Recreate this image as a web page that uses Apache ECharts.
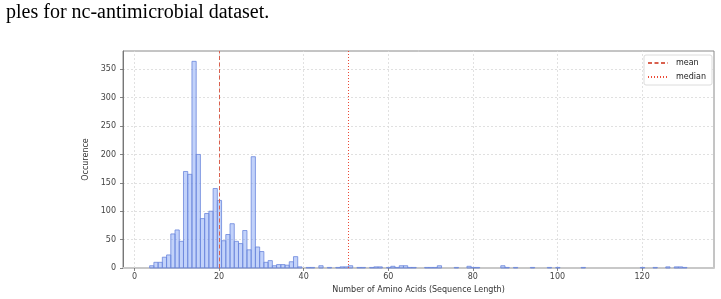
<!DOCTYPE html>
<html><head><meta charset="utf-8">
<script src="https://cdn.jsdelivr.net/npm/echarts@6/dist/echarts.min.js"></script>
<style>html,body{margin:0;padding:0;background:#fff}#c{width:721px;height:299px}</style>
</head><body><div id="c"></div>
<script>
// ---- data ----
const binLengths = [4,5,6,7,8,9,10,11,12,13,14,15,16,17,18,19,20,21,22,23,24,25,26,27,28,29,30,31,32,33,34,35,36,37,38,39,41,42,44,46,48,49,50,51,53,54,56,57,58,60,61,62,63,64,65,66,69,70,71,72,76,79,80,81,87,88,90,94,98,100,106,120,123,126,128,129,130];
const binCounts  = [4,10,10,19,23,60,67,47,170,165,364,200,87,96,100,140,119,48,59,78,47,43,66,32,196,37,29,10,13,4,6,6,5,11,20,2,1,1,4,1,1,2,2,4,1,1,1,2,2,1,3,1,4,4,1,1,1,1,1,4,1,3,1,1,4,1,1,1,1,1,1,1,1,2,2,2,1];
const xTickValues = [0,20,40,60,80,100,120];
const yTickValues = [0,50,100,150,200,250,300,350];
const meanLength = 20.0;
const medianLength = 50.5;
const captionText = 'ples for nc-antimicrobial dataset.';
const xTitle = 'Number of Amino Acids (Sequence Length)';
const yTitle = 'Occurence';
const legendNames = ['mean', 'median'];

const chart = echarts.init(document.getElementById('c'), null, {renderer: 'canvas'});
const FONT = 'DejaVu Sans';
const histData = binLengths.map((l, i) => [l, binCounts[i]]);
const yMax = Math.max(...binCounts) * 1.05;
const xMin = -2.7, xMax = 137.0;

chart.setOption({
  animation: false,
  backgroundColor: '#fff',
  textStyle: {fontFamily: FONT},
  graphic: [{
    type: 'text', left: 6, top: 3,
    style: {text: captionText, font: '20px "Liberation Serif"', fill: '#000'}
  }],
  grid: {left: 123, top: 51, right: 7, bottom: 31, show: true, borderColor: '#8a8a8a', borderWidth: 1, backgroundColor: 'transparent'},
  legend: {
    orient: 'vertical', left: 644, top: 55,
    data: legendNames.map(n => ({name: n, itemStyle: {opacity: 0}})),
    itemWidth: 20, itemHeight: 8, itemGap: 6,
    padding: [4, 6, 4, 3],
    backgroundColor: '#fff', borderColor: '#dcdcdc', borderWidth: 1, borderRadius: 2,
    textStyle: {fontFamily: FONT, fontSize: 8, color: '#222', padding: [0, 0, 0, 3]}
  },
  xAxis: {
    type: 'value', min: xMin, max: xMax,
    name: xTitle, nameLocation: 'middle', nameGap: 15,
    nameTextStyle: {fontFamily: FONT, fontSize: 8, color: '#333'},
    axisLine: {show: true, onZero: false, lineStyle: {color: '#c8c8c8', width: 2}},
    axisTick: {show: true, customValues: xTickValues, length: 3, lineStyle: {color: '#666', width: 0.8}},
    axisLabel: {customValues: xTickValues, fontFamily: FONT, fontSize: 8, color: '#444', margin: 5},
    splitLine: {show: false}
  },
  yAxis: {
    type: 'value', min: 0, max: yMax, interval: 50,
    name: yTitle, nameLocation: 'middle', nameGap: 24, nameRotate: 90,
    nameTextStyle: {fontFamily: FONT, fontSize: 8, color: '#333'},
    axisLine: {show: true, onZero: false, lineStyle: {color: '#777', width: 1}},
    axisTick: {show: true, customValues: yTickValues, length: 3, lineStyle: {color: '#666', width: 0.8}},
    axisLabel: {customValues: yTickValues, fontFamily: FONT, fontSize: 8, color: '#444', margin: 7},
    splitLine: {show: true, lineStyle: {color: '#d8d8d8', type: [2, 2], width: 0.8}}
  },
  series: [
    {
      type: 'custom', name: 'hist', data: histData, z: 3,
      renderItem: function (params, api) {
        const len = api.value(0), cnt = api.value(1);
        const p0 = api.coord([len - 0.4, cnt]);
        const p1 = api.coord([len + 0.6, 0]);
        return {
          type: 'rect',
          shape: {x: p0[0], y: p0[1], width: p1[0] - p0[0], height: p1[1] - p0[1]},
          style: {fill: 'rgba(120,155,245,0.45)', stroke: '#6b86dc', lineWidth: 0.8}
        };
      },
      markLine: {
        silent: true, symbol: 'none', z: 1,
        label: {show: false},
        lineStyle: {color: '#dadada', type: [2, 2], width: 0.8},
        data: xTickValues.map(v => ({xAxis: v}))
      }
    },
    {
      type: 'line', name: legendNames[0], data: [], symbol: 'none', showSymbol: false, z: 5,
      lineStyle: {color: '#d9604e', type: [4, 2.5], width: 1},
      itemStyle: {color: '#d9604e'},
      markLine: {
        silent: true, symbol: 'none', label: {show: false},
        lineStyle: {color: '#d9604e', type: [4, 2.5], width: 1},
        data: [{xAxis: meanLength}]
      }
    },
    {
      type: 'line', name: legendNames[1], data: [], symbol: 'none', showSymbol: false, z: 5,
      lineStyle: {color: '#ec4a36', type: [1, 2], width: 1},
      itemStyle: {color: '#ec4a36'},
      markLine: {
        silent: true, symbol: 'none', label: {show: false},
        lineStyle: {color: '#ec4a36', type: [1, 2], width: 1},
        data: [{xAxis: medianLength}]
      }
    }
  ]
});
</script>
</body></html>
